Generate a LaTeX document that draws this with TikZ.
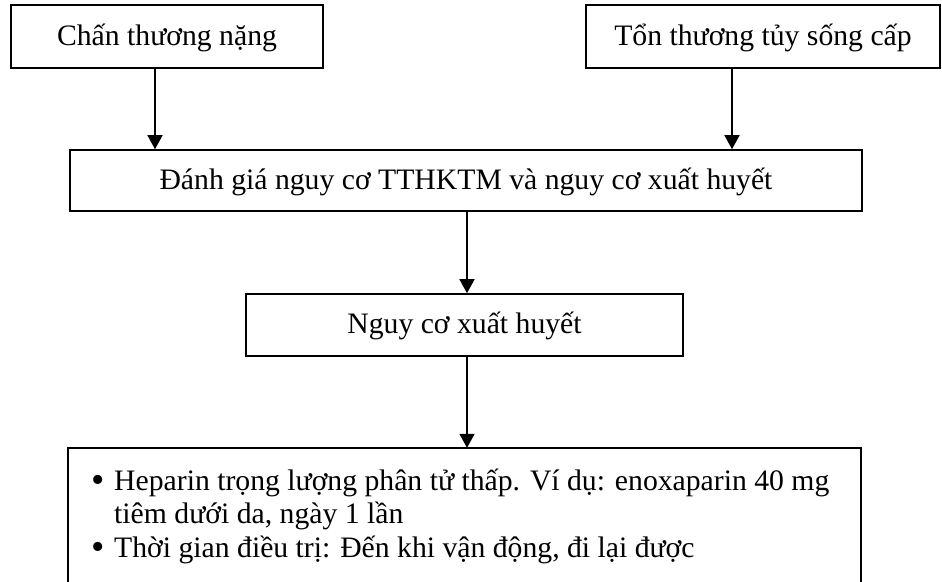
\documentclass[tikz,border=0pt]{standalone}
\usepackage{fontspec}
\setmainfont{Liberation Serif}
\usetikzlibrary{arrows.meta}
\newcommand{\listdot}{\raisebox{-2pt}{\fontsize{38}{33.5}\selectfont\textbullet}}
\begin{document}
\begin{tikzpicture}[x=1pt,y=-1pt,
  txt/.style={font=\fontsize{29.7}{33.5}\selectfont},
  box/.style={txt, draw, line width=1.6pt, inner sep=0pt,
    text height=23pt, text depth=6pt},
  arr/.style={line width=1.6pt, -{Triangle[width=15pt,length=14pt]}}]
\useasboundingbox (0,0) rectangle (942,581);

% boxes of the flow chart
\node[box, minimum width=312pt, minimum height=63pt] (injury) at (167,36.5) {Chấn thương nặng};
\node[box, minimum width=354pt, minimum height=63pt] (spine) at (763,36.5) {Tổn thương tủy sống cấp};
\node[box, minimum width=792pt, minimum height=61pt] (assess) at (466,180.5)
  {Đánh giá nguy cơ TTHKTM và nguy cơ xuất huyết};
\node[box, minimum width=437pt, minimum height=62pt] (risk) at (464.5,325) {Nguy cơ xuất huyết};

% treatment box, open at the lower edge of the page
\node[inner sep=0pt, minimum width=793pt, minimum height=160pt] (treat) at (464.5,528) {};
\draw[line width=1.6pt] (treat.south west) -- (treat.north west) -- (treat.north east) -- (treat.south east);
\node[txt, anchor=base west, inner sep=0pt] (treattext) at (91,490) {%
  \begin{tabular}[t]{@{}p{23pt}@{}l@{}}
  \listdot & Heparin trọng lượng phân tử thấp. Ví dụ: enoxaparin 40 mg\\
   & tiêm dưới da, ngày 1 lần\\
  \listdot & Thời gian điều trị: Đến khi vận động, đi lại được
  \end{tabular}};

% vertical lines along which the arrows run
\coordinate (xa) at (155,0);
\coordinate (xb) at (732,0);
\coordinate (xc) at (467,0);

\draw[arr] (injury.south -| xa) -- (assess.north -| xa);
\draw[arr] (spine.south -| xb) -- (assess.north -| xb);
\draw[arr] (assess.south -| xc) -- (risk.north -| xc);
\draw[arr] (risk.south -| xc) -- (treat.north -| xc);
\end{tikzpicture}
\end{document}
